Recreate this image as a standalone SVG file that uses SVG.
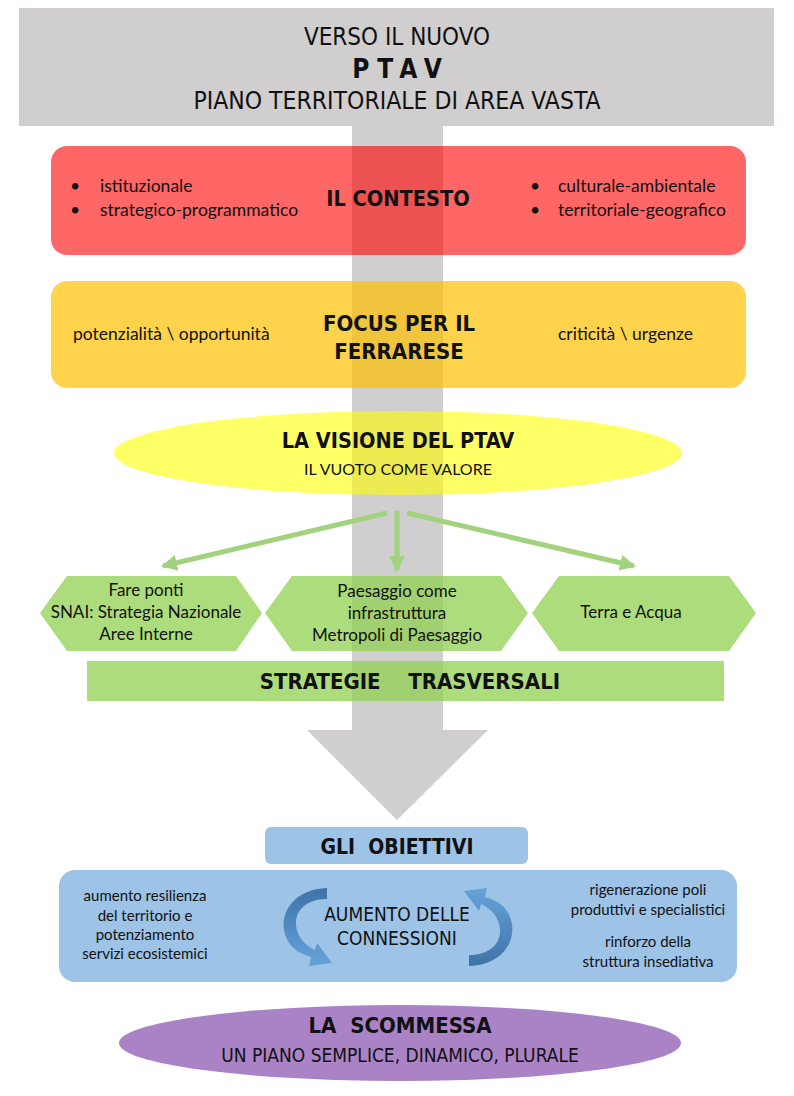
<svg xmlns="http://www.w3.org/2000/svg" width="794" height="1096" viewBox="0 0 794 1096">
<defs>
<style>
.din{font-family:"DejaVu Sans Condensed","DejaVu Sans",sans-serif;fill:#111;}
.b{font-weight:bold;}
.cal{font-family:Lato,"Liberation Sans",sans-serif;fill:#111;}
.grn{stroke:#A3D27E;stroke-width:5;fill:none;}
</style>
<marker id="ah" markerUnits="userSpaceOnUse" markerWidth="18" markerHeight="18" refX="14" refY="8" orient="auto">
<path d="M0,0 L16,8 L0,16 Z" fill="#A3D27E"/>
</marker>
<linearGradient id="cg" x1="0" y1="0" x2="0" y2="1">
<stop offset="0" stop-color="#3F73A8"/>
<stop offset="1" stop-color="#66A3DA"/>
</linearGradient>
</defs>

<g id="backbone">
<rect x="19" y="8" width="755" height="118" fill="#D0CECE"/>
<polygon points="352,125 443,125 443,730 488,730 397,820 307,730 352,730" fill="#D0CECE"/>
</g>

<g id="title">
<text class="din" x="397" y="45" text-anchor="middle" font-size="24">VERSO IL NUOVO</text>
<text class="din b" x="401" y="78" text-anchor="middle" font-size="26" letter-spacing="8">PTAV</text>
<text class="din" x="397" y="109" text-anchor="middle" font-size="24.5">PIANO TERRITORIALE DI AREA VASTA</text>
</g>

<g id="contesto">
<rect x="51" y="146" width="695" height="109" rx="16" fill="#FF0000" fill-opacity="0.6"/>
<text class="din b" x="398" y="206" text-anchor="middle" font-size="21.6">IL CONTESTO</text>
<text class="cal" font-size="17.5"><tspan x="70" y="192">•</tspan><tspan x="100" y="192">istituzionale</tspan><tspan x="70" y="216">•</tspan><tspan x="100" y="216">strategico-programmatico</tspan></text>
<text class="cal" font-size="17.5"><tspan x="530" y="192">•</tspan><tspan x="558" y="192">culturale-ambientale</tspan><tspan x="530" y="216">•</tspan><tspan x="558" y="216">territoriale-geografico</tspan></text>
</g>

<g id="focus">
<rect x="51" y="281" width="695" height="107" rx="16" fill="#FFC000" fill-opacity="0.7"/>
<text class="din b" x="399" y="331" text-anchor="middle" font-size="22">FOCUS PER IL</text>
<text class="din b" x="399" y="359" text-anchor="middle" font-size="22">FERRARESE</text>
<text class="cal" x="73" y="340" font-size="17.5">potenzialità \ opportunità</text>
<text class="cal" x="558" y="340" font-size="17.5">criticità \ urgenze</text>
</g>

<g id="visione">
<ellipse cx="398" cy="453" rx="284" ry="42" fill="#FFFF00" fill-opacity="0.6"/>
<text class="din b" x="398" y="448" text-anchor="middle" font-size="21.5">LA VISIONE DEL PTAV</text>
<text class="cal" x="398" y="475" text-anchor="middle" font-size="16">IL VUOTO COME VALORE</text>
</g>

<g id="connectors">
<line class="grn" x1="387" y1="513" x2="163" y2="566" marker-end="url(#ah)"/>
<line class="grn" x1="397" y1="511" x2="397" y2="570" marker-end="url(#ah)"/>
<line class="grn" x1="407" y1="513" x2="634" y2="566" marker-end="url(#ah)"/>
<line x1="215" y1="926" x2="275" y2="926" stroke="#5B9BD5" stroke-width="2"/>
<polyline points="568,884 520,917 566,952" fill="none" stroke="#5B9BD5" stroke-width="2"/>
</g>

<g id="hex-ponti">
<polygon points="40,613 67,576 236,576 262,613 236,651 67,651" fill="#92D050" fill-opacity="0.75"/>
<text class="cal" font-size="17" text-anchor="middle"><tspan x="146" y="596">Fare ponti</tspan><tspan x="146" y="618">SNAI: Strategia Nazionale</tspan><tspan x="146" y="640">Aree Interne</tspan></text>
</g>

<g id="hex-paesaggio">
<polygon points="265,613 292,576 501,576 528,613 501,651 292,651" fill="#92D050" fill-opacity="0.75"/>
<text class="cal" font-size="17" text-anchor="middle"><tspan x="397" y="597">Paesaggio come</tspan><tspan x="397" y="619">infrastruttura</tspan><tspan x="397" y="641">Metropoli di Paesaggio</tspan></text>
</g>

<g id="hex-terra">
<polygon points="532,613 559,576 729,576 756,613 729,651 559,651" fill="#92D050" fill-opacity="0.75"/>
<text class="cal" x="631" y="618" font-size="17" text-anchor="middle">Terra e Acqua</text>
</g>

<g id="strategie">
<rect x="87" y="661" width="637" height="40" fill="#92D050" fill-opacity="0.75"/>
<text class="din b" x="410" y="689" text-anchor="middle" font-size="22" xml:space="preserve">STRATEGIE    TRASVERSALI</text>
</g>

<g id="obiettivi">
<rect x="265" y="827" width="263" height="37" rx="6" fill="#9DC3E6"/>
<text class="din b" x="397" y="854" text-anchor="middle" font-size="21" xml:space="preserve">GLI  OBIETTIVI</text>
</g>

<g id="connessioni">
<rect x="59" y="870" width="678" height="112" rx="16" fill="#9DC3E6"/>
<text class="cal" font-size="15" text-anchor="middle"><tspan x="145" y="901">aumento resilienza</tspan><tspan x="145" y="921">del territorio e</tspan><tspan x="145" y="940">potenziamento</tspan><tspan x="145" y="959">servizi ecosistemici</tspan></text>
<text class="cal" font-size="15" text-anchor="middle"><tspan x="648" y="895">rigenerazione poli</tspan><tspan x="648" y="915">produttivi e specialistici</tspan><tspan x="648" y="947">rinforzo della</tspan><tspan x="648" y="967">struttura insediativa</tspan></text>
<path d="M327,888 C296,889 281,910 284,930 C287,946 297,953 311,957 L309,966 L332,963 L317,943 L315,950 C304,945 297,936 296,925 C295,910 307,899 327,899 Z" fill="url(#cg)"/>
<path d="M327,888 C296,889 281,910 284,930 C287,946 297,953 311,957 L309,966 L332,963 L317,943 L315,950 C304,945 297,936 296,925 C295,910 307,899 327,899 Z" fill="url(#cg)" transform="rotate(180 398 927)"/>
<text class="din" x="397" y="921" text-anchor="middle" font-size="19">AUMENTO DELLE</text>
<text class="din" x="397" y="945" text-anchor="middle" font-size="19">CONNESSIONI</text>
</g>

<g id="scommessa">
<ellipse cx="400" cy="1043" rx="281" ry="38" fill="#A983C6"/>
<text class="din b" x="400" y="1033" text-anchor="middle" font-size="22" xml:space="preserve">LA  SCOMMESSA</text>
<text class="din" x="400" y="1062" text-anchor="middle" font-size="19">UN PIANO SEMPLICE, DINAMICO, PLURALE</text>
</g>
</svg>
